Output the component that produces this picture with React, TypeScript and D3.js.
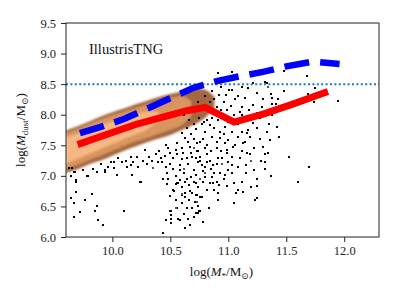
import React, { useRef, useEffect } from "react";
import * as d3 from "d3";

const W = 398;
const H = 299;
const MARGIN = { top: 23, right: 19, bottom: 62, left: 66 };

const xTicks = [10.0, 10.5, 11.0, 11.5, 12.0];
const yTicks = [6.0, 6.5, 7.0, 7.5, 8.0, 8.5, 9.0, 9.5];

// binned medians
const blueLine = [
  [9.72, 7.7], [9.9, 7.8], [10.1, 7.93], [10.3, 8.1], [10.5, 8.27], [10.7, 8.44],
  [10.9, 8.55], [11.1, 8.63], [11.3, 8.7], [11.5, 8.79], [11.7, 8.86], [11.78, 8.86], [11.96, 8.83],
];
const redLine = [
  [9.7, 7.51], [9.85, 7.61], [10.0, 7.71], [10.2, 7.84], [10.45, 7.97], [10.65, 8.07],
  [10.8, 8.12], [11.05, 7.88], [11.3, 8.01], [11.55, 8.17], [11.86, 8.38],
];

// 2d histogram band (outer / mid / core extents)
const bandX = [9.6, 9.7, 9.8, 9.9, 10.0, 10.1, 10.2, 10.3, 10.4, 10.5, 10.6, 10.7, 10.8, 10.88];
const outerHi = [7.74, 7.81, 7.89, 7.97, 8.04, 8.1, 8.17, 8.23, 8.29, 8.34, 8.38, 8.41, 8.41, 8.3];
const outerLo = [7.05, 7.11, 7.19, 7.25, 7.33, 7.41, 7.48, 7.55, 7.61, 7.67, 7.75, 7.83, 7.95, 8.1];
const midX = [9.6, 9.7, 9.8, 9.9, 10.0, 10.1, 10.2, 10.3, 10.4, 10.5, 10.6, 10.68];
const midHi = [7.7, 7.77, 7.85, 7.92, 7.99, 8.05, 8.11, 8.17, 8.22, 8.27, 8.3, 8.22];
const midLo = [7.12, 7.18, 7.26, 7.33, 7.41, 7.49, 7.56, 7.62, 7.69, 7.75, 7.83, 7.97];
const coreX = [9.6, 9.7, 9.8, 9.9, 10.0, 10.1, 10.2, 10.3, 10.4];
const coreHi = [7.63, 7.69, 7.76, 7.83, 7.89, 7.95, 8.01, 8.05, 8.04];
const coreLo = [7.21, 7.28, 7.36, 7.44, 7.52, 7.6, 7.68, 7.76, 7.9];

const points = [
  [9.67, 6.33], [9.64, 6.64], [9.67, 6.56], [9.69, 6.74], [9.69, 6.9], [9.76, 6.61], [9.82, 6.71],
  [9.87, 6.51], [9.85, 6.43], [9.88, 6.27], [9.92, 6.2], [10.1, 6.43], [10.25, 6.9], [10.44, 6.07],
  [10.46, 6.27], [10.51, 6.23], [10.51, 6.3], [10.51, 6.36], [10.51, 6.43], [10.5, 6.43], [10.57, 6.3],
  [10.63, 6.14], [10.65, 6.3], [10.56, 6.48], [10.64, 6.48], [10.5, 6.67], [10.6, 6.69], [10.63, 6.72],
  [10.67, 6.76], [10.69, 6.72], [10.73, 6.69], [10.76, 6.66], [10.72, 6.4], [10.75, 6.43], [10.55, 6.87],
  [10.57, 6.89], [10.63, 6.9], [10.47, 6.87], [10.72, 6.89], [9.65, 7.13], [9.68, 7.07], [9.69, 6.92],
  [9.72, 6.41], [9.79, 6.99], [9.94, 7.07], [10.01, 7.22], [10.04, 7.02], [10.08, 7.23], [10.16, 7.18],
  [10.17, 7.02], [10.24, 6.9], [10.35, 7.13], [10.39, 7.22], [10.44, 6.95], [10.47, 7.04], [10.5, 7.2],
  [10.52, 6.77], [10.56, 6.89], [10.6, 6.82], [10.63, 6.66], [10.58, 6.28], [10.69, 6.48], [10.71, 6.58],
  [10.73, 7.4], [10.76, 7.31], [10.82, 7.35], [10.82, 7.22], [10.77, 7.18], [10.87, 7.18], [10.91, 7.3],
  [10.94, 7.4], [10.99, 7.38], [11.03, 7.31], [11.03, 7.18], [11.0, 7.23], [11.12, 7.4], [11.16, 7.38],
  [11.19, 7.35], [11.32, 7.35], [11.34, 7.38], [11.32, 7.22], [11.32, 7.12], [11.15, 7.18], [11.52, 7.31],
  [11.7, 7.15], [11.37, 6.99], [11.25, 6.95], [11.25, 6.84], [11.2, 6.81], [11.13, 6.74], [11.08, 6.77],
  [11.07, 6.72], [11.12, 6.9], [11.05, 6.89], [10.99, 6.84], [11.03, 7.04], [10.97, 7.02], [10.93, 7.05],
  [10.88, 7.05], [10.9, 6.9], [10.87, 6.89], [10.84, 6.89], [10.78, 6.9], [10.74, 6.81], [10.82, 6.77],
  [10.77, 6.66], [10.88, 6.77], [10.91, 6.72], [10.91, 6.61], [11.05, 6.56], [11.25, 6.64], [11.23, 6.61],
  [11.6, 6.9], [10.74, 6.5], [10.76, 6.43], [10.74, 6.4], [10.83, 6.48], [10.72, 6.69],
  [11.48, 8.72], [11.68, 8.64], [11.32, 8.54], [11.37, 8.34], [11.38, 8.28], [11.38, 8.18], [11.41, 8.18],
  [11.48, 8.38], [11.69, 8.34], [11.75, 8.44], [11.74, 8.21], [11.95, 8.23], [11.29, 8.13],
  [10.91, 8.69], [11.03, 8.7], [11.19, 8.7], [11.21, 8.67], [11.33, 8.52], [11.21, 8.52], [11.12, 8.46],
  [11.43, 8.25], [11.21, 8.16], [11.3, 8.25], [11.38, 8.0], [11.27, 7.95], [11.21, 7.87], [11.25, 7.79],
  [11.33, 7.72], [11.42, 7.8], [11.44, 7.64], [11.36, 7.59], [11.3, 7.48], [11.19, 7.64], [11.13, 7.54],
  [11.12, 7.72], [11.16, 7.92], [11.1, 8.05], [11.06, 8.25], [11.01, 8.41], [10.99, 8.08], [10.95, 7.95],
  [10.93, 7.72], [11.03, 7.71], [11.04, 7.48], [10.97, 7.54],
  [10.48, 7.46], [10.56, 7.54], [10.63, 7.62], [10.67, 7.48], [10.73, 7.54], [10.69, 7.31], [10.61, 7.38],
  [10.52, 7.3], [10.43, 7.23], [10.32, 7.31], [10.28, 7.43], [10.21, 7.31], [10.18, 7.22], [10.58, 7.18],
  [10.74, 7.22], [9.63, 7.13], [9.67, 7.07], [9.64, 6.99], [9.69, 6.94], [9.78, 6.99], [9.87, 7.07],
  [9.94, 7.1], [10.01, 7.13], [10.13, 7.15], [9.99, 7.22], [10.16, 7.31],
  [10.74, 8.21], [10.8, 8.3], [10.84, 8.2], [10.88, 8.25], [10.77, 8.08], [10.87, 8.03], [10.94, 8.08],
  [10.99, 7.97], [10.91, 7.92], [10.82, 7.92], [10.77, 7.84], [10.88, 7.79], [10.97, 7.8], [11.03, 7.72],
  [10.8, 7.71], [10.86, 7.64], [10.93, 7.62], [11.0, 7.59], [10.76, 7.56], [10.82, 7.51], [10.9, 7.46],
  [10.99, 7.43], [11.06, 7.51], [10.74, 7.4], [11.08, 7.64], [11.14, 7.56], [11.17, 7.75], [11.2, 7.92],
  [11.25, 8.03], [11.21, 8.16], [11.12, 8.13], [11.08, 8.3], [11.03, 8.41], [10.94, 8.46], [11.17, 8.44],
  [11.25, 8.36], [11.14, 8.28],
  [10.4, 7.4], [10.45, 7.33], [10.55, 7.42], [10.6, 7.28], [10.65, 7.2], [10.7, 7.1], [10.62, 7.05],
  [10.55, 7.0], [10.48, 6.95], [10.58, 6.93], [10.68, 6.98], [10.66, 6.85], [10.72, 7.02], [10.78, 7.08],
  [10.8, 6.98], [10.85, 7.12], [10.53, 6.75], [10.6, 6.55], [10.66, 6.6], [10.55, 6.6], [10.62, 6.38],
  [10.7, 6.32], [10.78, 6.25], [10.67, 6.2],
  [10.62, 8.0], [10.66, 7.92], [10.7, 7.85], [10.64, 7.78], [10.6, 7.7], [10.68, 7.68], [10.72, 7.76],
  [10.75, 7.95], [10.79, 7.88], [10.84, 7.83], [10.86, 7.95], [10.9, 8.12], [10.96, 8.2], [10.92, 8.32],
  [10.86, 8.38], [10.98, 8.33], [11.02, 8.15], [11.05, 8.0], [11.0, 7.88], [10.96, 7.68], [10.9, 7.55],
  [10.85, 7.4], [10.8, 7.45], [10.78, 7.6], [10.7, 7.6], [10.65, 7.55], [10.6, 7.45], [10.56, 7.35],
  [10.5, 7.38], [10.46, 7.5], [10.42, 7.3], [10.38, 7.35], [10.34, 7.24], [10.3, 7.2], [10.26, 7.25],
  [10.22, 7.15], [10.12, 7.25], [10.05, 7.3], [9.96, 7.15], [9.9, 7.2], [9.83, 7.12], [9.75, 7.1],
  [10.64, 7.3], [10.68, 7.38], [10.72, 7.3], [10.76, 7.24], [10.8, 7.15], [10.84, 7.25], [10.9, 7.2],
  [10.95, 7.3], [11.0, 7.1], [10.96, 6.95], [10.92, 6.85], [10.86, 6.98], [10.7, 6.9], [10.64, 6.95],
  [10.58, 7.1], [10.52, 7.12], [10.46, 7.15], [11.08, 7.15], [11.1, 7.3], [11.15, 7.05], [11.22, 7.1],
  [11.28, 7.25], [11.27, 7.6], [11.22, 7.45], [11.16, 7.7], [11.35, 7.85], [11.08, 7.85], [11.12, 8.0],
  [11.18, 8.08],
];

const brownCells = [
  [10.55, 6.48], [10.6, 6.7], [10.73, 6.58], [10.8, 7.05], [10.95, 7.2], [10.7, 7.45], [11.2, 7.25],
  [10.76, 6.95], [10.35, 7.13], [11.34, 8.45], [10.62, 7.12],
];

const FONT = "'Liberation Serif', 'DejaVu Serif', 'Times New Roman', serif";

const App = () => {
  const ref = useRef(null);

  useEffect(() => {
    const innerW = W - MARGIN.left - MARGIN.right;
    const innerH = H - MARGIN.top - MARGIN.bottom;
    const x = d3.scaleLinear().domain([9.6, 12.3]).range([0, innerW]);
    const y = d3.scaleLinear().domain([6.0, 9.5]).range([innerH, 0]);

    const root = d3.select(ref.current);
    root.selectAll("*").remove();

    const defs = root.append("defs");
    defs.append("clipPath").attr("id", "plotclip")
      .append("rect").attr("width", innerW).attr("height", innerH);
    defs.append("filter").attr("id", "soft")
      .append("feGaussianBlur").attr("stdDeviation", 0.8);

    const g = root.append("g").attr("transform", `translate(${MARGIN.left},${MARGIN.top})`);
    const plot = g.append("g").attr("clip-path", "url(#plotclip)");

    // histogram band
    const band = plot.append("g").attr("filter", "url(#soft)");
    const area = (xs, hi, lo) =>
      d3.area().x((d, i) => x(xs[i])).y0((d, i) => y(lo[i])).y1((d, i) => y(hi[i]))
        .curve(d3.curveCatmullRom)(xs);
    band.append("path").attr("d", area(bandX, outerHi, outerLo)).attr("fill", "#a3673f");
    band.append("path").attr("d", area(midX, midHi, midLo)).attr("fill", "#d8955f");
    band.append("path").attr("d", area(coreX, coreHi, coreLo)).attr("fill", "#f6b784");

    // scatter
    const s = 2;
    plot.append("g").attr("shape-rendering", "crispEdges")
      .selectAll("rect").data(points).join("rect")
      .attr("x", (d) => Math.round(x(d[0]) - s / 2)).attr("y", (d) => Math.round(y(d[1]) - s / 2))
      .attr("width", s).attr("height", s).attr("fill", "#000");
    plot.append("g").attr("shape-rendering", "crispEdges")
      .selectAll("rect").data(brownCells).join("rect")
      .attr("x", (d) => Math.round(x(d[0]) - s / 2)).attr("y", (d) => Math.round(y(d[1]) - s / 2))
      .attr("width", s).attr("height", s).attr("fill", "#7a4a2c");

    // reference level
    plot.append("line").attr("x1", 0).attr("x2", innerW).attr("y1", y(8.5)).attr("y2", y(8.5))
      .attr("stroke", "#1f77b4").attr("stroke-width", 2).attr("stroke-dasharray", "2,2.4");

    const ln = d3.line().x((d) => x(d[0])).y((d) => y(d[1]));
    plot.append("path").datum(redLine).attr("d", ln).attr("fill", "none")
      .attr("stroke", "#ff0000").attr("stroke-width", 7);
    plot.append("path").datum(blueLine).attr("d", ln).attr("fill", "none")
      .attr("stroke", "#0000ff").attr("stroke-width", 6.5).attr("stroke-dasharray", "25,11");

    // axes
    const xa = g.append("g").attr("transform", `translate(0,${innerH})`)
      .call(d3.axisBottom(x).tickValues(xTicks).tickFormat(d3.format(".1f")).tickSize(5).tickPadding(4));
    const ya = g.append("g")
      .call(d3.axisLeft(y).tickValues(yTicks).tickFormat(d3.format(".1f")).tickSize(5).tickPadding(5));
    [xa, ya].forEach((a) => {
      a.attr("font-family", null).attr("font-size", null);
      a.select(".domain").remove();
      a.selectAll("line").attr("stroke", "#222").attr("stroke-width", 1);
      a.selectAll("text").style("font-family", FONT).style("font-size", "12.5px").attr("fill", "#222");
    });

    g.append("rect").attr("width", innerW).attr("height", innerH)
      .attr("fill", "none").attr("stroke", "#222").attr("stroke-width", 1);

    g.append("text").attr("x", 23).attr("y", 31).style("font-family", FONT).style("font-size", "14.5px")
      .attr("fill", "#111").text("IllustrisTNG");

    // axis labels
    const xl = root.append("text").attr("x", MARGIN.left + innerW / 2 - 1).attr("y", 276)
      .attr("text-anchor", "middle").style("font-family", FONT).style("font-size", "13px").attr("fill", "#111");
    xl.append("tspan").text("log(");
    xl.append("tspan").attr("font-style", "italic").text("M");
    xl.append("tspan").style("font-size", "9px").attr("dy", 3).text("*");
    xl.append("tspan").attr("dy", -3).text("/M");
    xl.append("tspan").style("font-size", "9px").attr("dy", 3).text("⊙");
    xl.append("tspan").attr("dy", -3).text(")");

    const yl = root.append("text").attr("transform", `translate(25,${MARGIN.top + innerH / 2}) rotate(-90)`)
      .attr("text-anchor", "middle").style("font-family", FONT).style("font-size", "13px").attr("fill", "#111");
    yl.append("tspan").text("log(");
    yl.append("tspan").attr("font-style", "italic").text("M");
    yl.append("tspan").style("font-size", "9px").attr("dy", 3).text("dust");
    yl.append("tspan").attr("dy", -3).text("/M");
    yl.append("tspan").style("font-size", "9px").attr("dy", 3).text("⊙");
    yl.append("tspan").attr("dy", -3).text(")");
  }, []);

  return (
    <svg ref={ref} width={W} height={H}
      style={{ position: "absolute", left: 0, top: 0, background: "#fff" }} />
  );
};

export default App;
